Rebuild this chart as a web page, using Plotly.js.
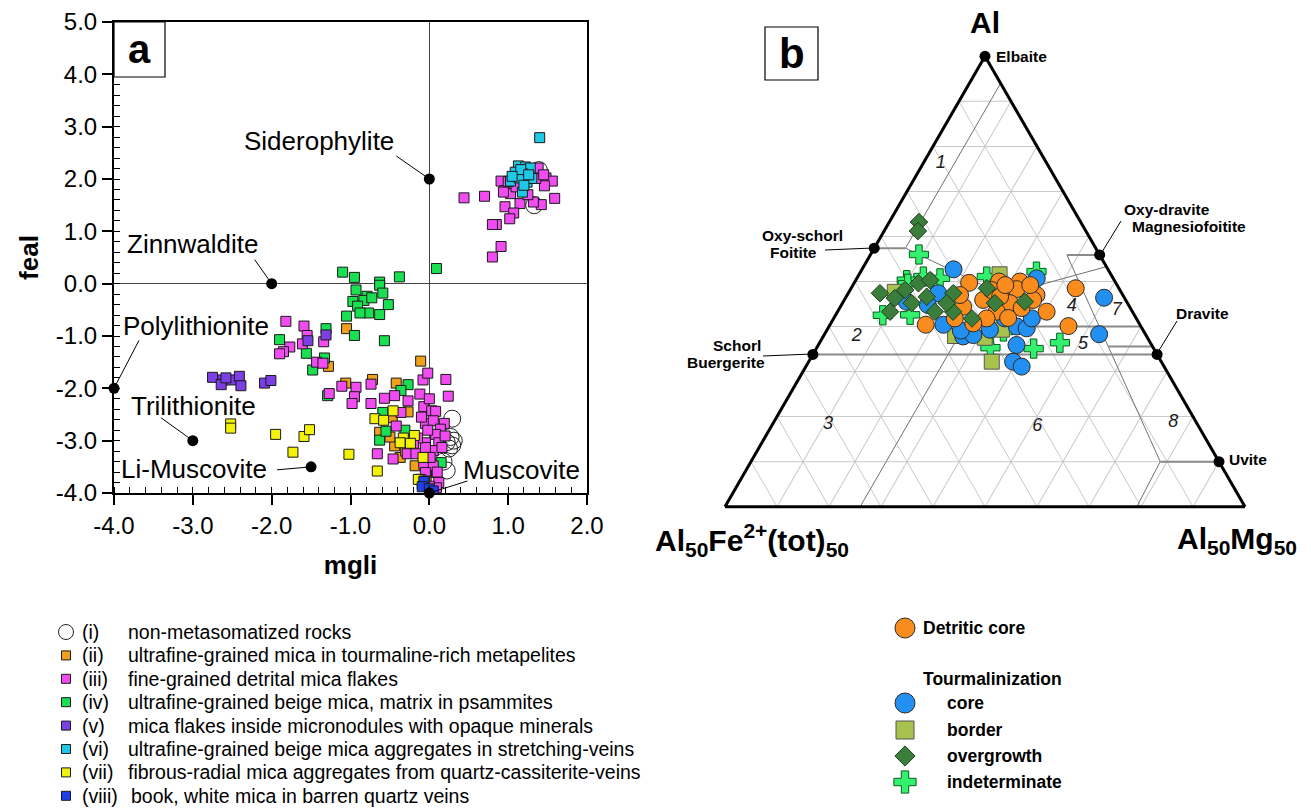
<!DOCTYPE html>
<html><head><meta charset="utf-8">
<script src="https://cdn.plot.ly/plotly-3.0.1.min.js"></script>
<style>html,body{margin:0;padding:0;background:#fff}#plot{width:1311px;height:810px}</style>
</head><body><div id="plot"></div>
<script>
const FONT = 'Liberation Sans, Arial, Helvetica, sans-serif';
const W = 1311, H = 810;

/* ---------- Panel a : feal vs mgli ---------- */
const xTickVals = [-4, -3, -2, -1, 0, 1, 2];
const xTickText = ['-4.0', '-3.0', '-2.0', '-1.0', '0.0', '1.0', '2.0'];
const yTickVals = [-4, -3, -2, -1, 0, 1, 2, 3, 4, 5];
const yTickText = ['-4.0', '-3.0', '-2.0', '-1.0', '0.0', '1.0', '2.0', '3.0', '4.0', '5.0'];

const micaNumerals = ['(i)', '(ii)', '(iii)', '(iv)', '(v)', '(vi)', '(vii)', '(viii)'];
const micaGroups = [
  'non-metasomatized rocks',
  'ultrafine-grained mica in tourmaline-rich metapelites',
  'fine-grained detrital mica flakes',
  'ultrafine-grained beige mica, matrix in psammites',
  'mica flakes inside micronodules with opaque minerals',
  'ultrafine-grained beige mica aggregates in stretching-veins',
  'fibrous-radial mica aggregates from quartz-cassiterite-veins',
  'book, white mica in barren quartz veins'
];

const mgli_i = [1.39, 1.33, 0.29, 0.27, 0.31, 0.29, 0.22, 0.22, 0.25, 0.18];
const feal_i = [2.17, 1.50, -2.58, -2.93, -3.00, -3.09, -3.03, -3.57, -3.15, -3.40];

const mgli_ii = [-1.05, -1.28, -0.11, -1.06, -0.72, -0.42, -0.27, -0.47, -0.63, -0.44, -0.37, -0.18, -0.04, -0.50, -0.30];
const feal_ii = [-0.86, -1.58, -1.48, -1.90, -1.83, -1.90, -2.45, -2.56, -2.84, -3.10, -3.32, -3.48, -3.71, -2.93, -3.20];

const mgli_iii = [0.44, 0.70, 0.91, 0.96, 1.03, 1.38, 1.48, 1.56, 1.46, 1.59, 1.42, 1.32, 1.15, 0.96, 1.07, 1.02, 0.85, 0.80, 0.91, 0.80, 1.35, 0.94, 1.10, 1.25, 1.45, 1.00,
  -1.82, -1.59, -1.55, -1.61, -1.77, -1.85, -1.90, -1.34, -1.43, -1.35, -1.27, -1.11, -0.93, -0.74, -0.95, -0.98, -0.74, -0.57, -0.44, -0.27, -0.12, -0.08, -0.02, 0.21, 0.24, -0.07, 0.03, 0.08, -0.36, -0.42, 0.19, -0.05, 0.05, 0.14, 0.08, -0.05, 0.12, -0.28, -0.17, -0.46, -0.66, 0.05, -0.07, 0.05, -0.05, 0.12, 0.09, 0.00, 0.20, 0.16, -0.05, 0.01, -0.11, -0.15, -0.10, 0.00, -0.20, 0.10, -0.02];
const feal_iii = [1.64, 1.67, 1.96, 1.78, 1.72, 2.21, 2.02, 1.96, 1.87, 1.63, 1.51, 1.56, 1.53, 1.47, 1.35, 1.24, 1.13, 1.13, 0.71, 0.51, 2.01, 1.75, 1.85, 1.70, 2.08, 1.95,
  -0.72, -0.81, -0.99, -1.15, -1.21, -1.30, -1.34, -1.11, -1.50, -1.52, -2.10, -1.96, -1.98, -1.92, -2.16, -2.29, -2.29, -2.19, -2.14, -2.24, -2.11, -1.84, -1.71, -1.83, -2.15, -2.35, -2.43, -2.44, -2.46, -2.72, -2.67, -2.67, -2.62, -2.78, -2.88, -3.04, -3.04, -3.25, -3.25, -3.35, -3.25, -3.19, -3.45, -3.48, -3.61, -3.80, -3.90, -3.87, -2.91, -3.13, -3.13, -3.32, -3.74, -2.95, -2.55, -2.20, -3.05, -3.60, -2.80];

const mgli_iv = [-1.10, -0.95, -0.63, -0.38, 0.09, -0.93, -0.63, -0.59, -0.79, -0.97, -0.83, -0.91, -0.52, -0.77, -1.05, -0.63, -0.88, -0.73, -0.95, -0.57, -1.31, -1.90, -1.56, -1.33, -1.48, -1.29, -0.27, -0.36, -0.59, -0.31, -0.63, -0.55, 0.15, 0.09, -0.09, 0.05];
const feal_iv = [0.22, 0.12, 0.03, 0.13, 0.29, -0.12, -0.03, -0.18, -0.24, -0.34, -0.32, -0.43, -0.40, -0.56, -0.62, -0.59, -0.56, -0.27, -0.99, -1.09, -0.86, -1.07, -1.33, -1.42, -1.65, -2.14, -1.93, -2.04, -2.46, -2.80, -2.99, -2.82, -3.42, -3.61, -3.83, -3.95];

const mgli_v = [-2.75, -2.62, -2.51, -2.41, -2.39, -2.64, -2.09, -2.01, -1.54, -1.31, -2.58];
const feal_v = [-1.79, -1.84, -1.84, -1.77, -1.95, -1.93, -1.90, -1.85, -1.09, -0.98, -1.80];

const mgli_vi = [1.40, 1.13, 1.22, 1.28, 1.09, 1.18, 1.24, 1.03, 1.18, 1.30, 1.14, 1.20, 1.16, 1.26, 1.05];
const feal_vi = [2.79, 2.25, 2.23, 2.21, 2.13, 2.10, 1.94, 1.96, 1.75, 2.01, 2.02, 1.88, 2.18, 2.08, 2.05];

const mgli_vii = [-2.52, -2.52, -1.95, -1.59, -1.52, -1.73, -1.02, -0.66, -0.69, -0.58, -0.46, -0.33, -0.19, -0.37, -0.24, -0.08, -0.14, -0.06];
const feal_vii = [-2.68, -2.76, -2.88, -2.92, -2.79, -3.22, -3.26, -3.58, -2.58, -2.61, -2.43, -2.95, -2.90, -3.04, -3.05, -3.32, -3.74, -3.77];

const mgli_viii = [-0.07, -0.09, 0.00, 0.05];
const feal_viii = [-3.78, -3.88, -3.92, -3.96];

const micaEndNames = ['Siderophylite', 'Zinnwaldite', 'Polylithionite', 'Trilithionite', 'Li-Muscovite', 'Muscovite'];
const micaEndMgli = [0, -2, -4, -3, -1.5, 0];
const micaEndFeal = [2, 0, -2, -3, -3.5, -4];

/* ---------- Panel b : Al - Al50Fe50 - Al50Mg50 ---------- */
const detritic_a = [0.497, 0.500, 0.500, 0.483, 0.470, 0.433, 0.452, 0.433, 0.459, 0.444, 0.418, 0.404, 0.418, 0.407, 0.441, 0.459, 0.481, 0.485, 0.401, 0.466, 0.492, 0.419, 0.470, 0.492];
const detritic_b = [0.282, 0.223, 0.183, 0.198, 0.166, 0.165, 0.226, 0.261, 0.274, 0.320, 0.349, 0.412, 0.288, 0.319, 0.209, 0.178, 0.247, 0.083, 0.139, 0.238, 0.167, 0.246, 0.313, 0.215];
const detritic_c = [0.221, 0.277, 0.317, 0.319, 0.364, 0.402, 0.322, 0.306, 0.267, 0.236, 0.233, 0.184, 0.294, 0.274, 0.350, 0.363, 0.272, 0.432, 0.460, 0.296, 0.341, 0.335, 0.217, 0.293];

const core_a = [0.527, 0.507, 0.474, 0.455, 0.404, 0.378, 0.381, 0.418, 0.400, 0.396, 0.418, 0.359, 0.322, 0.311, 0.464, 0.383, 0.391, 0.393, 0.448];
const core_b = [0.297, 0.147, 0.353, 0.423, 0.378, 0.353, 0.332, 0.253, 0.239, 0.222, 0.201, 0.260, 0.285, 0.274, 0.039, 0.089, 0.351, 0.294, 0.386];
const core_c = [0.176, 0.346, 0.173, 0.122, 0.218, 0.269, 0.287, 0.329, 0.361, 0.382, 0.381, 0.381, 0.393, 0.415, 0.497, 0.528, 0.258, 0.313, 0.166];

const border_a = [0.322, 0.516, 0.393, 0.379, 0.477, 0.375];
const border_b = [0.326, 0.214, 0.271, 0.368, 0.435, 0.313];
const border_c = [0.352, 0.270, 0.336, 0.253, 0.088, 0.312];

const over_a = [0.474, 0.463, 0.433, 0.452, 0.496, 0.503, 0.466, 0.433, 0.474, 0.433, 0.452, 0.418, 0.485, 0.452, 0.455, 0.632, 0.612, 0.481];
const over_b = [0.465, 0.442, 0.466, 0.415, 0.380, 0.354, 0.379, 0.380, 0.324, 0.345, 0.348, 0.316, 0.254, 0.255, 0.196, 0.311, 0.323, 0.413];
const over_c = [0.061, 0.095, 0.101, 0.133, 0.124, 0.143, 0.155, 0.187, 0.202, 0.222, 0.200, 0.266, 0.261, 0.293, 0.349, 0.057, 0.065, 0.106];

const indet_a = [0.560, 0.425, 0.426, 0.353, 0.351, 0.364, 0.511, 0.503, 0.507, 0.511, 0.522, 0.389, 0.495];
const indet_b = [0.347, 0.484, 0.431, 0.313, 0.231, 0.174, 0.363, 0.399, 0.333, 0.241, 0.140, 0.270, 0.401];
const indet_c = [0.093, 0.091, 0.143, 0.334, 0.418, 0.462, 0.126, 0.098, 0.160, 0.248, 0.338, 0.341, 0.104];

const tourEndNames = ['Elbaite', 'Oxy-schorl', 'Oxy-dravite', 'Schorl', 'Dravite', 'Uvite'];
const tourEnd_a = [1.000, 0.574, 0.559, 0.338, 0.338, 0.100];
const tourEnd_b = [0.000, 0.426, 0.000, 0.662, 0.000, 0.000];
const tourEnd_c = [0.000, 0.000, 0.441, 0.000, 0.662, 0.900];

// field boundaries (Henry et al.), each [a..],[b..],[c..]
const fieldLinesThin = [
  [[0.940, 0.574], [0.000, 0.366], [0.060, 0.060]],
  [[0.574, 0.470], [0.366, 0.230], [0.060, 0.300]],
  [[0.470, 0.533], [0.230, 0.000], [0.300, 0.467]],
  [[0.559, 0.100], [0.063, 0.113], [0.378, 0.787]],
  [[0.100, 0.000], [0.113, 0.208], [0.787, 0.792]],
  [[0.000, 0.400], [0.740, 0.340], [0.260, 0.260]]
];
const fieldLinesThick = [
  [[0.574, 0.574], [0.426, 0.366], [0.000, 0.060]],
  [[0.559, 0.559], [0.000, 0.063], [0.441, 0.378]],
  [[0.100, 0.100], [0.113, 0.000], [0.787, 0.900]],
  [[0.400, 0.400], [0.214, 0.000], [0.386, 0.600]],
  [[0.3555, 0.3555], [0.0854, 0.000], [0.5591, 0.6445]],
  [[0.338, 0.338], [0.662, 0.000], [0.000, 0.662]]
];
const fieldNums = ['1', '2', '3', '4', '5', '6', '7', '8'];
const fieldNum_a = [0.762, 0.377, 0.182, 0.444, 0.359, 0.177, 0.435, 0.186];
const fieldNum_b = [0.204, 0.558, 0.711, 0.111, 0.132, 0.311, 0.029, 0.045];
const fieldNum_c = [0.034, 0.065, 0.107, 0.445, 0.509, 0.512, 0.536, 0.769];

const tourLegendNames = ['Detritic core', 'core', 'border', 'overgrowth', 'indeterminate'];

/* ---------- styles ---------- */
const micaStyles = [
  {symbol: 'circle-open', color: '#222', size: 17, line: {color: '#222', width: 1}},
  {symbol: 'square', color: '#f0a11c', size: 10, line: {color: '#1a1a1a', width: 1}},
  {symbol: 'square', color: '#f04cf0', size: 10, line: {color: '#1a1a1a', width: 1}},
  {symbol: 'square', color: '#18e050', size: 10, line: {color: '#1a1a1a', width: 1}},
  {symbol: 'square', color: '#7b3fe4', size: 10, line: {color: '#1a1a1a', width: 1}},
  {symbol: 'square', color: '#1ec8e6', size: 10, line: {color: '#1a1a1a', width: 1}},
  {symbol: 'square', color: '#f2f20a', size: 10, line: {color: '#1a1a1a', width: 1}},
  {symbol: 'square', color: '#2040e8', size: 10, line: {color: '#1a1a1a', width: 1}}
];
const micaData = [
  [mgli_i, feal_i], [mgli_ii, feal_ii], [mgli_iii, feal_iii], [mgli_iv, feal_iv],
  [mgli_v, feal_v], [mgli_vi, feal_vi], [mgli_vii, feal_vii], [mgli_viii, feal_viii]
];
const micaDrawOrder = [0, 1, 3, 2, 6, 4, 5, 7];

const tourStyles = [
  {symbol: 'circle', color: '#fa8c1e', size: 17, line: {color: '#2a2a2a', width: 1}},
  {symbol: 'circle', color: '#2290f0', size: 17, line: {color: '#2a2a2a', width: 1}},
  {symbol: 'square', color: '#a8c24e', size: 15, line: {color: '#555', width: 1}},
  {symbol: 'diamond', color: '#3b7d3b', size: 13.5, line: {color: '#1e3e1e', width: 1}},
  {symbol: 'cross', color: '#33f06e', size: 16, line: {color: '#0b5a1e', width: 1}}
];
const tourData = [
  [detritic_a, detritic_b, detritic_c], [core_a, core_b, core_c], [border_a, border_b, border_c],
  [over_a, over_b, over_c], [indet_a, indet_b, indet_c]
];
const tourDrawOrder = [4, 2, 1, 0, 3];

/* ---------- traces ---------- */
const traces = [];
micaDrawOrder.forEach(i => {
  traces.push({
    type: 'scatter', mode: 'markers', x: micaData[i][0], y: micaData[i][1],
    xaxis: 'x', yaxis: 'y', name: micaNumerals[i] + ' ' + micaGroups[i],
    marker: micaStyles[i], hoverinfo: 'x+y'
  });
});
traces.push({
  type: 'scatter', mode: 'markers', x: micaEndMgli, y: micaEndFeal, text: micaEndNames,
  xaxis: 'x', yaxis: 'y', cliponaxis: false, name: 'end-members',
  marker: {symbol: 'circle', color: '#000', size: 11}
});

fieldLinesThin.forEach(l => traces.push({
  type: 'scatterternary', mode: 'lines', a: l[0], b: l[1], c: l[2], subplot: 'ternary',
  line: {color: '#707070', width: 1}, hoverinfo: 'skip'
}));
fieldLinesThick.forEach(l => traces.push({
  type: 'scatterternary', mode: 'lines', a: l[0], b: l[1], c: l[2], subplot: 'ternary',
  line: {color: '#8a8a8a', width: 2}, hoverinfo: 'skip'
}));
traces.push({
  type: 'scatterternary', mode: 'text', a: fieldNum_a, b: fieldNum_b, c: fieldNum_c,
  text: fieldNums.map(t => '<i>' + t + '</i>'), subplot: 'ternary',
  textfont: {family: FONT, size: 18, color: '#1a1a1a'}, hoverinfo: 'skip'
});
tourDrawOrder.forEach(i => traces.push({
  type: 'scatterternary', mode: 'markers', a: tourData[i][0], b: tourData[i][1], c: tourData[i][2],
  subplot: 'ternary', name: tourLegendNames[i], marker: tourStyles[i]
}));
traces.push({
  type: 'scatterternary', mode: 'markers', a: tourEnd_a, b: tourEnd_b, c: tourEnd_c,
  text: tourEndNames, subplot: 'ternary', cliponaxis: false,
  marker: {symbol: 'circle', color: '#000', size: 11}
});

/* ---------- legend keys (page pixel axis x3/y3) ---------- */
const LEG_A = {symX: 66, numX: 80, descX: 126, y0: 632, dy: 23.4, font: 19.5};
micaStyles.forEach((st, i) => {
  const s = Object.assign({}, st, {size: i === 0 ? 15 : 9});
  traces.push({type: 'scatter', mode: 'markers', x: [LEG_A.symX], y: [LEG_A.y0 + i * LEG_A.dy],
    xaxis: 'x3', yaxis: 'y3', cliponaxis: false, marker: s, hoverinfo: 'skip'});
});
const LEG_B = {symX: 905, textX: 921, itemX: 945, rows: [628, 703, 730, 756, 782], titleY: 679, font: 17.5};
const legBSizes = [20, 20, 18, 15.5, 18.5];
tourStyles.forEach((st, i) => {
  const s = Object.assign({}, st, {size: legBSizes[i]});
  traces.push({type: 'scatter', mode: 'markers', x: [LEG_B.symX], y: [LEG_B.rows[i]],
    xaxis: 'x3', yaxis: 'y3', cliponaxis: false, marker: s, hoverinfo: 'skip'});
});

/* ---------- annotations & shapes ---------- */
const annotations = [];
const shapes = [];
const labelShift = [[-110, 38], [-79, 40], [82, 62], [1, 35], [-117, -2], [92, 23]];
const leaderTail = [[-33, -23], [-17, -24], [25, -48], [-32, -23], [-34, 3], [38, -12]];
micaEndNames.forEach((n, i) => {
  annotations.push({x: micaEndMgli[i], y: micaEndFeal[i], xref: 'x', yref: 'y', text: n, showarrow: false,
    xshift: labelShift[i][0], yshift: labelShift[i][1], font: {family: FONT, size: 26, color: '#000'}});
  shapes.push({type: 'line', xref: 'x', yref: 'y', xsizemode: 'pixel', ysizemode: 'pixel',
    xanchor: micaEndMgli[i], yanchor: micaEndFeal[i], x0: 0, y0: 0,
    x1: leaderTail[i][0], y1: -leaderTail[i][1], line: {color: '#000', width: 1}});
});

function pxAnn(x, y, text, size, opts) {
  return Object.assign({xref: 'x3', yref: 'y3', x: x, y: y, text: text, showarrow: false,
    font: {family: FONT, size: size, color: '#000'}, xanchor: 'center', yanchor: 'middle'}, opts || {});
}
// legend a text
micaGroups.forEach((g, i) => {
  const y = LEG_A.y0 + i * LEG_A.dy;
  annotations.push(pxAnn(LEG_A.numX, y, micaNumerals[i], LEG_A.font, {xanchor: 'left'}));
  annotations.push(pxAnn(i === 7 ? LEG_A.descX + 3 : LEG_A.descX, y, g, LEG_A.font, {xanchor: 'left'}));
});
// legend b text
annotations.push(pxAnn(LEG_B.textX, LEG_B.rows[0], '<b>' + tourLegendNames[0] + '</b>', LEG_B.font, {xanchor: 'left'}));
annotations.push(pxAnn(LEG_B.textX, LEG_B.titleY, '<b>Tourmalinization</b>', LEG_B.font, {xanchor: 'left'}));
for (let i = 1; i < 5; i++) {
  annotations.push(pxAnn(LEG_B.itemX, LEG_B.rows[i], '<b>' + tourLegendNames[i] + '</b>', LEG_B.font, {xanchor: 'left'}));
}
// ternary corner titles
annotations.push(pxAnn(985, 22, '<b>Al</b>', 30));
annotations.push(pxAnn(752, 540, '<b>Al<sub>50</sub>Fe<sup>2+</sup>(tot)<sub>50</sub></b>', 30));
annotations.push(pxAnn(1237, 540, '<b>Al<sub>50</sub>Mg<sub>50</sub></b>', 30));
// ternary end-member labels
const EB = 15.5;
annotations.push(pxAnn(994, 56, '<b>Elbaite</b>', EB, {xanchor: 'left'}));
annotations.push(pxAnn(802, 235, '<b>Oxy-schorl</b>', EB));
annotations.push(pxAnn(793, 252, '<b>Foitite</b>', EB));
annotations.push(pxAnn(1167, 209, '<b>Oxy-dravite</b>', EB));
annotations.push(pxAnn(1189, 226, '<b>Magnesiofoitite</b>', EB));
annotations.push(pxAnn(1202, 313, '<b>Dravite</b>', EB));
annotations.push(pxAnn(737, 345, '<b>Schorl</b>', EB));
annotations.push(pxAnn(726, 362, '<b>Buergerite</b>', EB));
annotations.push(pxAnn(1227, 459, '<b>Uvite</b>', EB, {xanchor: 'left'}));
[[825, 250, 873, 248], [1121, 221, 1102, 252], [1177, 321, 1158, 352], [763, 356, 812, 354]].forEach(s => {
  shapes.push({type: 'line', xref: 'x3', yref: 'y3', x0: s[0], y0: s[1], x1: s[2], y1: s[3], line: {color: '#000', width: 1}});
});
// panel letters
shapes.push({type: 'rect', xref: 'x3', yref: 'y3', x0: 114, y0: 22, x1: 165, y1: 77, line: {color: '#000', width: 1.2}, fillcolor: '#fff'});
shapes.push({type: 'rect', xref: 'x3', yref: 'y3', x0: 765, y0: 27, x1: 818, y1: 80, line: {color: '#000', width: 1.2}, fillcolor: '#fff'});
annotations.push(pxAnn(139.5, 49, '<b>a</b>', 40));
annotations.push(pxAnn(791.5, 53, '<b>b</b>', 42));

const ternAxis = {
  showgrid: true, gridcolor: '#c9c9c9', gridwidth: 1, showline: true, linecolor: '#000', linewidth: 3,
  ticks: '', showticklabels: false, tickmode: 'linear', tick0: 0, dtick: 0.1, title: {text: ''}
};

const layout = {
  width: W, height: H, margin: {l: 0, r: 0, t: 0, b: 0},
  paper_bgcolor: '#fff', plot_bgcolor: 'rgba(0,0,0,0)', showlegend: false,
  font: {family: FONT, color: '#000'},
  xaxis: {
    domain: [114 / W, 587 / W], range: [-4, 2], anchor: 'y',
    tickmode: 'array', tickvals: xTickVals, ticktext: xTickText,
    ticks: 'outside', ticklen: 10, tickwidth: 2, tickcolor: '#000',
    minor: {dtick: 0.2, ticks: 'inside', ticklen: 6, tickwidth: 1, tickcolor: '#000', showgrid: false},
    showline: true, linecolor: '#000', linewidth: 2, mirror: true, showgrid: false,
    zeroline: true, zerolinecolor: '#444', zerolinewidth: 1,
    tickfont: {family: FONT, size: 24}, automargin: false,
    title: {text: '<b>mgli</b>', font: {family: FONT, size: 26}, standoff: 18}
  },
  yaxis: {
    domain: [1 - 493 / H, 1 - 22 / H], range: [-4, 5], anchor: 'x',
    tickmode: 'array', tickvals: yTickVals, ticktext: yTickText,
    ticks: 'outside', ticklen: 10, tickwidth: 2, tickcolor: '#000',
    minor: {dtick: 0.2, ticks: 'inside', ticklen: 6, tickwidth: 1, tickcolor: '#000', showgrid: false},
    showline: true, linecolor: '#000', linewidth: 2, mirror: true, showgrid: false,
    zeroline: true, zerolinecolor: '#444', zerolinewidth: 1,
    tickfont: {family: FONT, size: 24}, automargin: false,
    title: {text: '<b>feal</b>', font: {family: FONT, size: 26}, standoff: 10}
  },
  xaxis3: {domain: [0, 1], range: [0, W], anchor: 'y3', visible: false, fixedrange: true},
  yaxis3: {domain: [0, 1], range: [H, 0], anchor: 'x3', visible: false, fixedrange: true},
  ternary: {
    domain: {x: [725 / W, 1245 / W], y: [1 - 507 / H, 1 - 56 / H]},
    sum: 1, bgcolor: '#fff',
    aaxis: ternAxis, baxis: ternAxis, caxis: ternAxis
  },
  annotations: annotations,
  shapes: shapes
};

Plotly.newPlot('plot', traces, layout, {displayModeBar: false, staticPlot: true});
</script></body></html>
